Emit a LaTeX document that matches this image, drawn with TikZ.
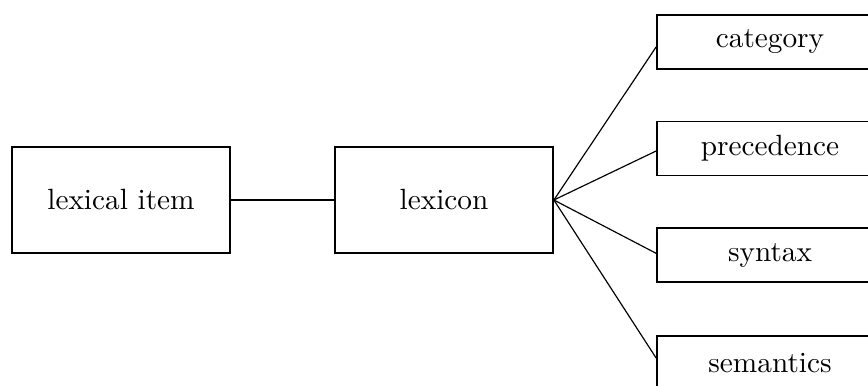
\documentclass[tikz,border=0pt]{standalone}
\usepackage{amssymb}
\usepackage{amsmath}
\usepackage{tikz}
\usetikzlibrary{calc}

\begin{document}
\begin{tikzpicture}[
        bigbox/.style={draw,line width=0.6pt,minimum width=2.616cm,minimum height=1.272cm,inner sep=0pt},
        featbox/.style={draw,line width=0.6pt,minimum width=2.712cm,minimum height=0.648cm,inner sep=0pt}]
            \useasboundingbox (0, 0) rectangle (10.416, -4.632);
            \clip (0, 0) rectangle (10.416, -4.632);

            \node [bigbox] (item) at (1.452, -2.4) {lexical item};
            \node [bigbox] (lexicon) at (5.328, -2.4) {lexicon};

            \node [featbox] (category) at (9.24, -0.504) {category};
            \node [featbox] (precedence) at ($(category) + (0, -1.278)$) {precedence};
            \node [featbox] (syntax) at ($(precedence) + (0, -1.278)$) {syntax};
            \node [featbox] (semantics) at ($(syntax) + (0, -1.296)$) {semantics};

            \draw [line width=0.5pt] (item) -- (lexicon);
            \draw (lexicon.east) -- ([yshift=-0.06cm]category.west);
            \draw (lexicon.east) -- ([yshift=-0.03cm]precedence.west);
            \draw (lexicon.east) -- ([yshift=0.02cm]syntax.west);
            \draw (lexicon.east) -- ([yshift=0.06cm]semantics.west);
        \end{tikzpicture}
\end{document}
